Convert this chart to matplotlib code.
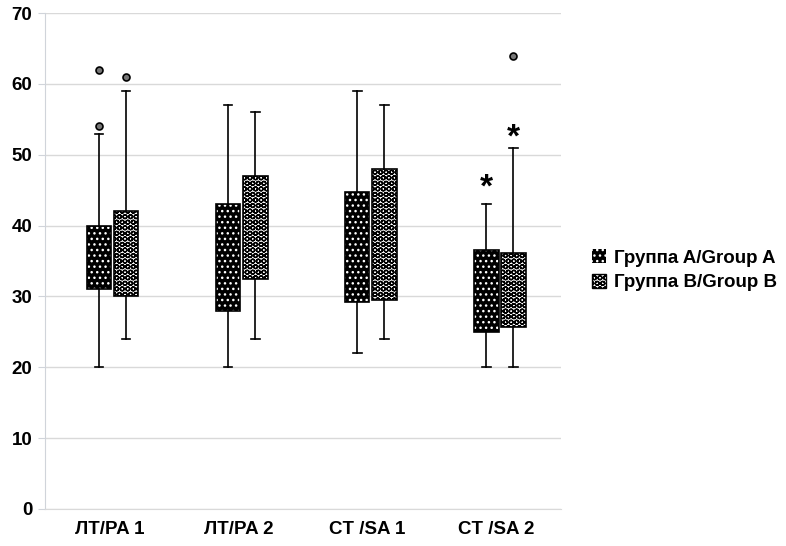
import matplotlib
matplotlib.use('Agg')
import matplotlib.pyplot as plt
from matplotlib.patches import Patch, PathPatch

# Data
categories = ['ЛТ/PA 1', 'ЛТ/PA 2', 'CT /SA 1', 'CT /SA 2']
group_names = ['Группа A/Group A', 'Группа B/Group B']

# box stats per category: whisker low, q1, q3, whisker high
a_low  = [20, 20, 22, 20]
a_q1   = [31, 28, 29.2, 25]
a_q3   = [40, 43, 44.8, 36.5]
a_high = [53, 57, 59, 43]
a_fliers = [[54, 62], [], [], []]

b_low  = [24, 24, 24, 20]
b_q1   = [30, 32.5, 29.5, 25.7]
b_q3   = [42, 47, 48, 36.1]
b_high = [59, 56, 57, 51]
b_fliers = [[61], [], [], [64]]

# significance marks (category index, group, y)
stars = [(3, 0, 45.3), (3, 1, 52.3)]

yticks = [0, 10, 20, 30, 40, 50, 60, 70]

plt.rcParams['font.family'] = ['Liberation Sans', 'DejaVu Sans']
plt.rcParams['font.weight'] = 'bold'

def makeStats(low, q1, q3, high, fliers):
    out = []
    for i in range(len(low)):
        out.append({'whislo': low[i], 'q1': q1[i], 'med': (q1[i] + q3[i]) / 2,
                    'q3': q3[i], 'whishi': high[i], 'fliers': fliers[i]})
    return out

def main():
    fig = plt.figure(figsize=(7.86, 5.46), dpi=100)
    ax = fig.add_axes([0.057, 0.068, 0.657, 0.908])

    shift = 0.025
    offset = 0.105
    width = 0.19
    posA = [i + 1 + shift - offset for i in range(len(categories))]
    posB = [i + 1 + shift + offset for i in range(len(categories))]

    common = dict(widths=width, capwidths=width * 0.35, patch_artist=True,
                  showfliers=True,
                  whiskerprops={'color': 'black', 'linewidth': 1.2},
                  capprops={'color': 'black', 'linewidth': 1.2},
                  medianprops={'visible': False},
                  flierprops={'marker': 'o', 'markersize': 5, 'markerfacecolor': '#777777',
                              'markeredgecolor': 'black', 'markeredgewidth': 1.2})

    bpA = ax.bxp(makeStats(a_low, a_q1, a_q3, a_high, a_fliers), positions=posA, **common)
    bpB = ax.bxp(makeStats(b_low, b_q1, b_q3, b_high, b_fliers), positions=posB, **common)

    for box in bpA['boxes']:
        box.set_facecolor('black')
        box.set_edgecolor('white')
        box.set_hatch('...')
        box.set_linewidth(0)
        ax.add_patch(PathPatch(box.get_path(), fill=False, edgecolor='black', linewidth=1.2, zorder=3))
    for box in bpB['boxes']:
        box.set_facecolor('white')
        box.set_edgecolor('black')
        box.set_hatch('OOO')
        box.set_linewidth(1.2)

    for cat, grp, y in stars:
        x = (posA if grp == 0 else posB)[cat]
        ax.text(x, y, '*', ha='center', va='center', fontsize=24, fontweight='bold')

    ax.set_xlim(0.5, 4.5)
    ax.set_ylim(0, 70)
    ax.set_xticks(range(1, len(categories) + 1))
    ax.set_xticklabels(categories, fontsize=13.5, fontweight='bold')
    ax.set_yticks(yticks)
    ax.set_yticklabels([str(t) for t in yticks], fontsize=13.5, fontweight='bold')
    ax.tick_params(axis='x', length=0, pad=9)
    ax.tick_params(axis='y', length=5, color='#d0d4da', pad=4)

    ax.grid(axis='y', color='#d9d9d9', linewidth=1)
    ax.set_axisbelow(True)
    for s in ['top', 'right']:
        ax.spines[s].set_visible(False)
    ax.spines['left'].set_color('#d0d4da')
    ax.spines['bottom'].set_color('#d9d9d9')

    handles = [Patch(facecolor='black', edgecolor='white', hatch='...', linewidth=0),
               Patch(facecolor='white', edgecolor='black', hatch='OOO')]
    fig.legend(handles, group_names, loc='center left', bbox_to_anchor=(0.732, 0.505),
               frameon=False, handlelength=0.75, handleheight=0.75,
               handletextpad=0.4, labelspacing=0.4, prop={'weight': 'bold', 'size': 13.5})

    fig.savefig('out.png', dpi=100)

if __name__ == '__main__':
    main()
